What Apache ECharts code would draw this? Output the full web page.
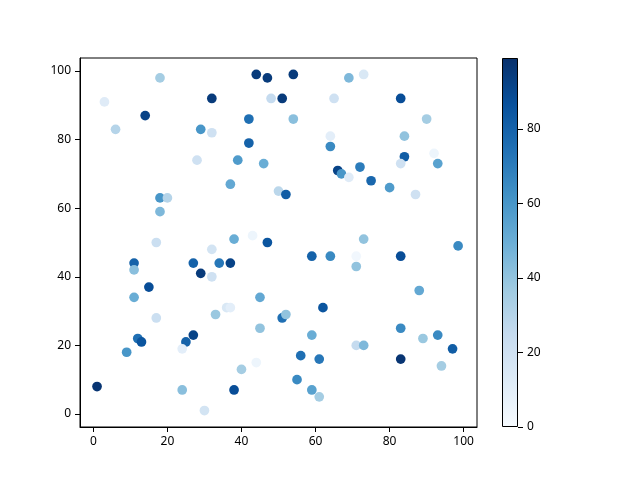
<!DOCTYPE html>
<html lang="en">

<head>
    <meta charset="UTF-8">
    <title>scatter</title>
    <script src="https://cdn.jsdelivr.net/npm/echarts@6/dist/echarts.min.js"></script>
    <style>
        html, body { margin: 0; padding: 0; background: #fff; }
    </style>
</head>

<body>
    <div id="main" style="width: 640px;height:480px;"></div>
    <script>
        // point positions and colour values
        var xs = [18, 44, 47, 3, 32, 48, 14, 42, 6, 29, 32, 42, 28, 39, 46, 37, 50, 18, 20, 18,
            17, 38, 43, 47, 54, 69, 73, 51, 65, 83, 54, 90, 64, 84, 64, 84, 92, 83, 93, 66,
            67, 69, 72, 75, 80, 87, 52, 73, 98.5, 32, 11, 11, 27, 34, 37, 29, 32, 15, 11, 45,
            36, 37, 33, 17, 45, 51, 52, 12, 13, 9, 27, 25, 24, 40, 44, 1, 24, 38, 30, 59,
            64, 71, 83, 71, 88, 62, 59, 83, 89, 93, 97, 71, 73, 56, 61, 83, 94, 55, 59, 61];
        var ys = [98, 99, 98, 91, 92, 92, 87, 86, 83, 83, 82, 79, 74, 74, 73, 67, 65, 63, 63, 59,
            50, 51, 52, 50, 99, 98, 99, 92, 92, 92, 86, 86, 81, 81, 78, 75, 76, 73, 73, 71,
            70, 69, 72, 68, 66, 64, 64, 51, 49, 48, 44, 42, 44, 44, 44, 41, 40, 37, 34, 34,
            31, 31, 29, 28, 25, 28, 29, 22, 21, 18, 23, 21, 19, 13, 15, 8, 7, 7, 1, 46,
            46, 46, 46, 43, 36, 31, 23, 25, 22, 23, 19, 20, 20, 17, 16, 16, 14, 10, 7, 5];
        var cs = [35, 95, 95, 12, 95, 25, 92, 75, 30, 60, 20, 80, 20, 58, 50, 52, 28, 60, 30, 45,
            22, 50, 5, 85, 95, 45, 15, 95, 20, 88, 42, 35, 10, 40, 65, 82, 5, 20, 55, 92,
            60, 12, 70, 78, 58, 20, 82, 40, 65, 18, 80, 42, 80, 72, 92, 95, 20, 88, 50, 52,
            15, 10, 38, 22, 40, 75, 40, 75, 85, 60, 92, 80, 10, 35, 5, 97, 42, 88, 18, 80,
            65, 3, 88, 40, 52, 85, 50, 65, 38, 65, 82, 25, 45, 75, 72, 97, 35, 65, 55, 35];
        var xTicks = [0, 20, 40, 60, 80, 100];
        var yTicks = [0, 20, 40, 60, 80, 100];
        var cbTicks = [0, 20, 40, 60, 80];
        var cMin = 0, cMax = 99;

        var blues = ['#f7fbff', '#deebf7', '#c6dbef', '#9ecae1', '#6baed6',
            '#4292c6', '#2171b5', '#08519c', '#08306b'];

        var points = xs.map((x, i) => [x, ys[i], cs[i]]);

        var labelStyle = { color: '#000', fontFamily: 'Noto Sans', fontSize: 12 };

        var myChart = echarts.init(document.getElementById('main'));
        var option = {
            animation: false,
            grid: [
                { left: 80, top: 58, width: 397, height: 369, show: true, borderColor: '#000', borderWidth: 1 },
                { left: 502, top: 58, width: 16, height: 369 }
            ],
            xAxis: [
                {
                    type: 'value', gridIndex: 0, min: -3.6, max: 103.6,
                    splitLine: { show: false },
                    axisLine: { show: true, onZero: false, lineStyle: { color: '#000' } },
                    axisTick: { show: true, length: 5, customValues: xTicks, lineStyle: { color: '#000' } },
                    axisLabel: Object.assign({ margin: 9, customValues: xTicks }, labelStyle)
                },
                {
                    type: 'category', gridIndex: 1, data: ['c'], show: false
                }
            ],
            yAxis: [
                {
                    type: 'value', gridIndex: 0, min: -3.8, max: 103.8,
                    splitLine: { show: false },
                    axisLine: { show: true, onZero: false, lineStyle: { color: '#000' } },
                    axisTick: { show: true, length: 5, customValues: yTicks, lineStyle: { color: '#000' } },
                    axisLabel: Object.assign({ margin: 9, customValues: yTicks }, labelStyle)
                },
                {
                    type: 'value', gridIndex: 1, min: cMin, max: cMax, position: 'right',
                    splitLine: { show: false },
                    axisLine: { show: false },
                    axisTick: { show: true, length: 5, customValues: cbTicks, lineStyle: { color: '#000' } },
                    axisLabel: Object.assign({ margin: 9, customValues: cbTicks }, labelStyle)
                }
            ],
            visualMap: {
                type: 'continuous', show: false, min: cMin, max: cMax,
                dimension: 2, seriesIndex: 0,
                inRange: { color: blues }
            },
            series: [
                {
                    type: 'scatter', xAxisIndex: 0, yAxisIndex: 0,
                    symbolSize: 9.7,
                    itemStyle: { opacity: 1 },
                    data: points
                },
                {
                    // colorbar
                    type: 'bar', xAxisIndex: 1, yAxisIndex: 1,
                    barWidth: '100%',
                    data: [cMax],
                    itemStyle: {
                        borderColor: '#000', borderWidth: 1,
                        color: new echarts.graphic.LinearGradient(0, 1, 0, 0,
                            blues.map((c, i) => ({ offset: i / (blues.length - 1), color: c })))
                    }
                }
            ]
        };
        option && myChart.setOption(option);
    </script>
</body>

</html>
